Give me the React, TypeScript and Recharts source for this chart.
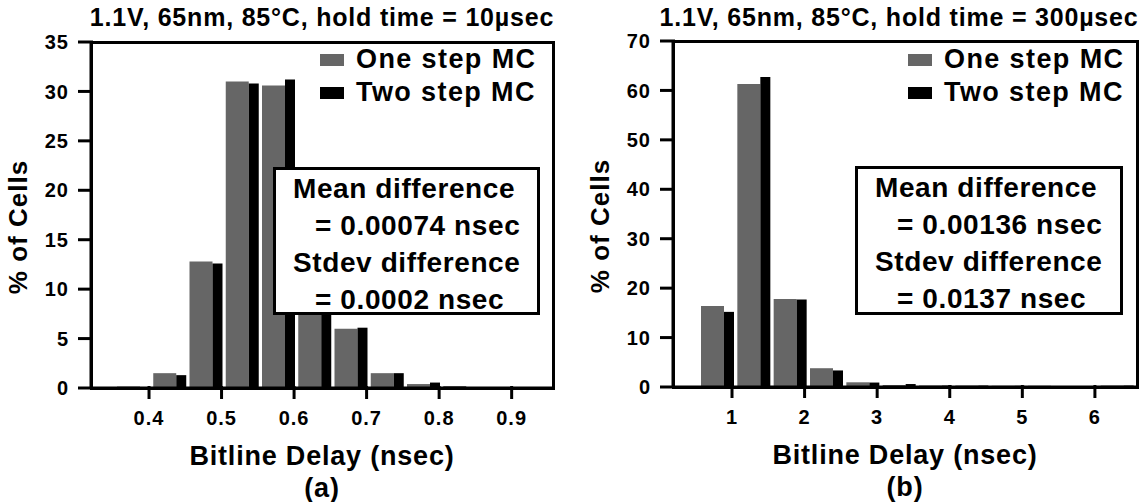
import { BarChart, Bar, XAxis, YAxis, Legend, Label } from "recharts"

const FONT = '"Liberation Sans", Arial, Helvetica, sans-serif'
const GRAY = "#666666"
const BLACK = "#000000"

// (a) hold time = 10µsec, bins of 0.05 nsec
const binsA = [0.38, 0.43, 0.48, 0.53, 0.58, 0.63, 0.68, 0.73, 0.78, 0.83, 0.88, 0.93]
const oneStepA = [0.15, 1.5, 12.8, 31.0, 30.6, 15.8, 6.0, 1.5, 0.4, 0.2, 0.08, 0.06]
const twoStepA = [0.1, 1.3, 12.6, 30.8, 31.2, 15.9, 6.1, 1.5, 0.55, 0.1, 0.06, 0.06]
const xTicksA = [0.4, 0.5, 0.6, 0.7, 0.8, 0.9]
const yTicksA = [0, 5, 10, 15, 20, 25, 30, 35]
const statsA = ["Mean difference", "= 0.00074 nsec", "Stdev difference", "= 0.0002 nsec"]

// (b) hold time = 300µsec, bins of 0.5 nsec
const binsB = [0.82, 1.32, 1.82, 2.32, 2.82, 3.32, 3.82, 4.32, 4.82, 5.32, 5.82, 6.32]
const oneStepB = [16.4, 61.3, 17.8, 3.8, 0.95, 0.4, 0.3, 0.3, 0.25, 0.25, 0.2, 0.3]
const twoStepB = [15.2, 62.7, 17.7, 3.35, 0.9, 0.6, 0.3, 0.3, 0.25, 0.2, 0.2, 0.3]
const xTicksB = [1, 2, 3, 4, 5, 6]
const yTicksB = [0, 10, 20, 30, 40, 50, 60, 70]
const statsB = ["Mean difference", "= 0.00136 nsec", "Stdev difference", "= 0.0137 nsec"]

const toRows = (bins: number[], one: number[], two: number[]) =>
  bins.map((center, i) => ({ center, one: one[i], two: two[i] }))

const tickFont = { fontSize: 20, fontWeight: 700, fontFamily: FONT, letterSpacing: 1 }

// x tick: a mark hanging below the axis, then the label
const X_TICK = 11
const X_GAP = 12
function XTick(props: any) {
  const x = Number(props.x)
  const y = Number(props.y)
  const top = y - X_GAP - X_TICK - 2
  return (
    <g>
      <path d={`M${x - 1.5},${top}h3v${X_TICK + 2}h-3z`} fill="#000" stroke="none" />
      <text x={x} y={y} dy="0.71em" textAnchor="middle" fill="#000" style={tickFont}>
        {props.payload.value}
      </text>
    </g>
  )
}

// y tick: a mark sticking out left of the axis, then the label
const Y_TICK = 13
const Y_GAP = 9
function YTick(props: any) {
  const x = Number(props.x)
  const y = Number(props.y)
  const start = x + Y_GAP
  return (
    <g>
      <path d={`M${start},${y - 1.5}h${Y_TICK + 2}v3h${-(Y_TICK + 2)}z`} fill="#000" stroke="none" />
      <text x={x} y={y} dy="0.355em" textAnchor="end" fill="#000" style={tickFont}>
        {props.payload.value}
      </text>
    </g>
  )
}

function LegendRows({ payload }: any) {
  return (
    <div>
      {(payload || []).map((p: any) => (
        <div key={p.value} style={{ display: "flex", alignItems: "center", height: 33 }}>
          <span style={{ width: 24, height: 12, background: p.color, marginRight: 12 }} />
          <span style={{ fontFamily: FONT, fontWeight: 700, fontSize: 27, letterSpacing: 1.4, color: "#000", whiteSpace: "nowrap" }}>
            {p.value}
          </span>
        </div>
      ))}
    </div>
  )
}

type PanelProps = {
  left: number
  width: number
  title: string
  caption: string
  rows: { center: number; one: number; two: number }[]
  xDomain: [number, number]
  xTicks: number[]
  yMax: number
  yTicks: number[]
  stats: string[]
  margin: { top: number; right: number; bottom: number; left: number }
  pad: { left: number; right: number }
  titleX: number
  legendPos: { top: number; left: number }
  box: { left: number; top: number; width: number; height: number }
}

function Panel(p: PanelProps) {
  const plotW = p.width - p.margin.left - 50 - p.margin.right
  const plotH = 502 - p.margin.top - p.margin.bottom - 30
  return (
    <div style={{ position: "absolute", left: p.left, top: 0, width: p.width, height: 502 }}>
      <BarChart width={p.width} height={502} data={p.rows} margin={p.margin} barGap={0}>
        <XAxis xAxisId="bins" dataKey="center" hide height={0} padding={p.pad} />
        <XAxis
          xAxisId="delay"
          dataKey="center"
          type="number"
          domain={p.xDomain}
          allowDataOverflow
          ticks={p.xTicks}
          interval={0}
          height={30}
          stroke="#000"
          strokeWidth={3}
          tickLine={false}
          tickSize={X_TICK}
          tickMargin={X_GAP}
          tick={XTick}
        >
          <Label
            content={({ viewBox }: any) => {
              const cx = viewBox.x + viewBox.width / 2
              const style = { fontFamily: FONT, fontWeight: 700, fontSize: 27, letterSpacing: 0.8 }
              return (
                <g>
                  <text x={cx} y={viewBox.y + 77} textAnchor="middle" style={style}>Bitline Delay (nsec)</text>
                  <text x={cx} y={viewBox.y + 109} textAnchor="middle" style={style}>{p.caption}</text>
                </g>
              )
            }}
          />
        </XAxis>
        <YAxis
          domain={[0, p.yMax]}
          ticks={p.yTicks}
          interval={0}
          width={50}
          stroke="#000"
          strokeWidth={3}
          tickLine={false}
          tickSize={Y_TICK}
          tickMargin={Y_GAP}
          tick={YTick}
        >
          <Label
            content={({ viewBox }: any) => {
              const x = viewBox.x + viewBox.width - 73
              const y = viewBox.y + viewBox.height / 2 + 12
              return (
                <text
                  transform={`translate(${x}, ${y}) rotate(-90)`}
                  textAnchor="middle"
                  dominantBaseline="central"
                  style={{ fontFamily: FONT, fontWeight: 700, fontSize: 26, letterSpacing: 1 }}
                >
                  % of Cells
                </text>
              )
            }}
          />
        </YAxis>
        <Legend
          layout="vertical"
          align="center"
          verticalAlign="middle"
          wrapperStyle={{ top: p.legendPos.top, left: p.legendPos.left, width: "auto" }}
          content={LegendRows}
        />
        <Bar xAxisId="bins" dataKey="one" name="One step MC" fill={GRAY} barSize={23} isAnimationActive={false} />
        <Bar xAxisId="bins" dataKey="two" name="Two step MC" fill={BLACK} barSize={10} isAnimationActive={false} />
      </BarChart>
      {/* 3px frame around the plot area */}
      <div
        style={{
          position: "absolute",
          left: p.margin.left + 50 - 1.5,
          top: p.margin.top - 1.5,
          width: plotW + 3,
          height: plotH + 3,
          boxSizing: "border-box",
          border: "3px solid #000",
          pointerEvents: "none",
        }}
      />
      <div
        style={{
          position: "absolute",
          left: p.titleX - 300,
          width: 600,
          top: 2,
          lineHeight: "30px",
          textAlign: "center",
          fontFamily: FONT,
          fontWeight: 700,
          fontSize: 25,
          letterSpacing: 0.8,
          whiteSpace: "nowrap",
        }}
      >
        {p.title}
      </div>
      <div
        style={{
          position: "absolute",
          left: p.box.left,
          top: p.box.top,
          width: p.box.width,
          height: p.box.height,
          boxSizing: "border-box",
          border: "3px solid #000",
          background: "#fff",
          paddingLeft: 17,
          fontFamily: FONT,
          fontWeight: 700,
          fontSize: 28,
          letterSpacing: 0.6,
          lineHeight: "37px",
          whiteSpace: "nowrap",
        }}
      >
        {p.stats.map((s, i) => (
          <div key={i} style={{ paddingLeft: i % 2 === 1 ? 22 : 0 }}>{s}</div>
        ))}
      </div>
    </div>
  )
}

export default function App() {
  return (
    <div style={{ position: "absolute", left: 0, top: 0, width: 1144, height: 502, background: "#fff" }}>
      <Panel
        left={0}
        width={570}
        title="1.1V, 65nm, 85°C, hold time = 10µsec"
        caption="(a)"
        rows={toRows(binsA, oneStepA, twoStepA)}
        xDomain={[0.32, 0.957]}
        xTicks={xTicksA}
        yMax={35}
        yTicks={yTicksA}
        stats={statsA}
        margin={{ top: 42, right: 17, bottom: 84, left: 41 }}
        pad={{ left: 24, right: 3 }}
        titleX={322}
        legendPos={{ top: 43, left: 320 }}
        box={{ left: 273, top: 167, width: 267, height: 148 }}
      />
      <Panel
        left={570}
        width={574}
        title="1.1V, 65nm, 85°C, hold time = 300µsec"
        caption="(b)"
        rows={toRows(binsB, oneStepB, twoStepB)}
        xDomain={[0.187, 6.58]}
        xTicks={xTicksB}
        yMax={70}
        yTicks={yTicksB}
        stats={statsB}
        margin={{ top: 41, right: 7, bottom: 85, left: 53 }}
        pad={{ left: 26, right: 2 }}
        titleX={329}
        legendPos={{ top: 43, left: 338 }}
        box={{ left: 285, top: 166, width: 268, height: 149 }}
      />
    </div>
  )
}
